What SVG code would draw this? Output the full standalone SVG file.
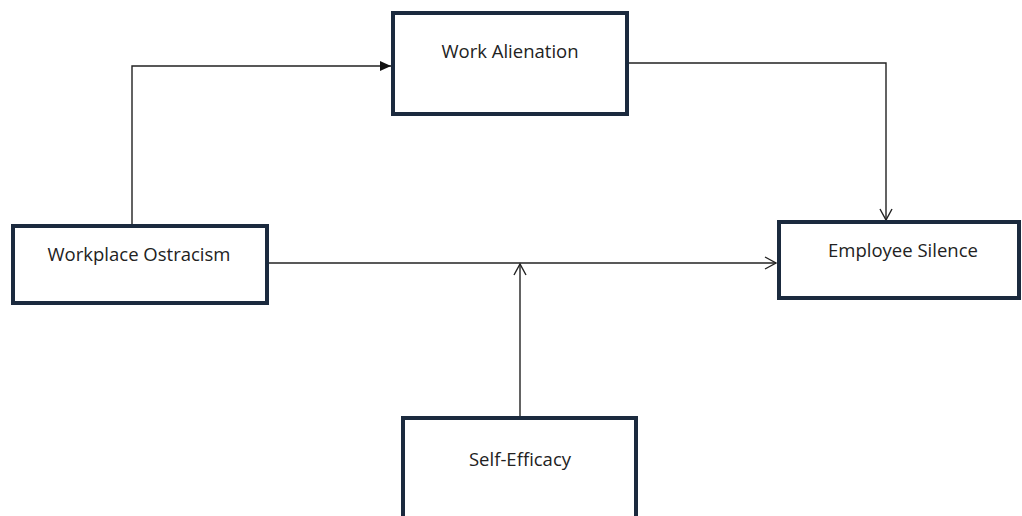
<svg xmlns="http://www.w3.org/2000/svg" width="1022" height="516" viewBox="0 0 1022 516">
<style>
.box{fill:#fff;stroke:#1b2a3e;stroke-width:4}
.lbl{font-family:"Open Sans","Liberation Sans",sans-serif;font-size:18.5px;fill:#222;text-anchor:middle}
.ln{fill:none;stroke:#222;stroke-width:1.4}
</style>
<defs>
<marker id="filled" markerWidth="12" markerHeight="10" refX="11" refY="5" orient="auto" markerUnits="userSpaceOnUse">
<path d="M0,0 L11,5 L0,10 Z" fill="#111"/>
</marker>
<marker id="vee" markerWidth="14" markerHeight="14" refX="12" refY="7" orient="auto" markerUnits="userSpaceOnUse">
<path d="M1,1 L12,7 L1,13" fill="none" stroke="#222" stroke-width="1.4"/>
</marker>
</defs>
<rect width="1022" height="516" fill="#fff"/>
<g id="connectors">
<path class="ln" d="M132,225 L132,66 L391,66" marker-end="url(#filled)"/>
<path class="ln" d="M627,63 L886,63 L886,220" marker-end="url(#vee)"/>
<path class="ln" d="M267,263 L776,263" marker-end="url(#vee)"/>
<path class="ln" d="M520,418 L520,264" marker-end="url(#vee)"/>
</g>
<g id="work-alienation">
<rect class="box" x="393" y="13" width="234" height="101"/>
<text class="lbl" x="510" y="58">Work Alienation</text>
</g>
<g id="workplace-ostracism">
<rect class="box" x="13" y="226" width="254" height="77"/>
<text class="lbl" x="139" y="261">Workplace Ostracism</text>
</g>
<g id="employee-silence">
<rect class="box" x="779" y="222" width="240" height="76"/>
<text class="lbl" x="903" y="257">Employee Silence</text>
</g>
<g id="self-efficacy">
<rect class="box" x="403" y="418" width="233" height="110"/>
<text class="lbl" x="520" y="466">Self-Efficacy</text>
</g>
</svg>
